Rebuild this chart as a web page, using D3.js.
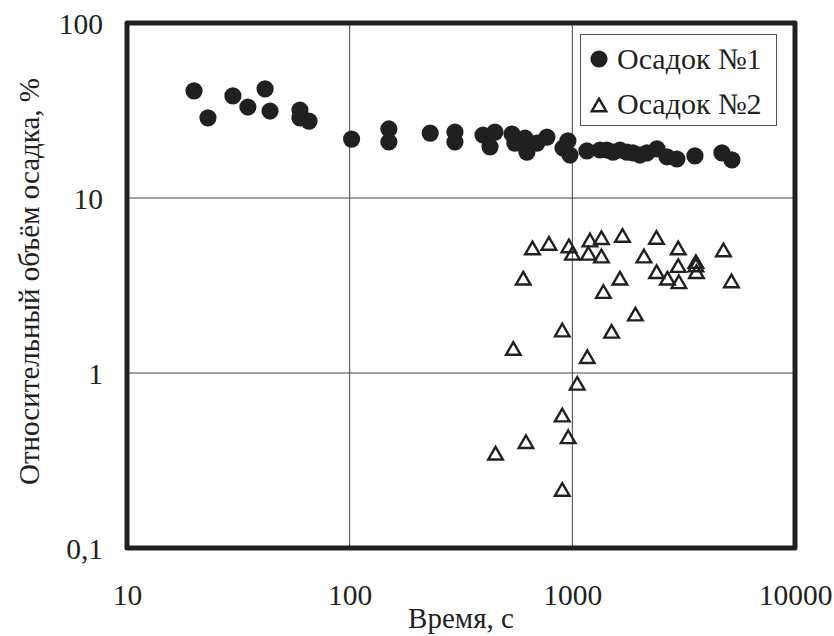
<!DOCTYPE html>
<html><head><meta charset="utf-8">
<script src="https://cdn.jsdelivr.net/npm/d3@7/dist/d3.min.js"></script>
</head><body style="margin:0">
<svg id="chart" width="834" height="636" style="font-family:'Liberation Serif'"></svg>
<script>
// Data: Осадок №1 (circles)
const sed1Time = [20.0, 23.1, 29.9, 34.9, 41.7, 43.9, 59.8, 59.8, 65.7, 102, 150, 150, 230, 297, 297, 397, 427, 449, 536, 552, 613, 625, 693, 769, 908, 955, 976, 1163, 1331, 1430, 1522, 1636, 1759, 1872, 2012, 2163, 2399, 2660, 2949, 3553, 4697, 5208];
const sed1Vol  = [40.9, 28.7, 38.3, 33.1, 42.0, 31.4, 31.8, 28.7, 27.5, 21.7, 24.8, 20.9, 23.5, 23.8, 20.9, 22.9, 19.6, 23.8, 23.2, 20.6, 22.0, 18.3, 20.6, 22.3, 19.3, 21.2, 17.6, 18.6, 18.8, 18.8, 18.3, 18.8, 18.3, 18.1, 17.6, 18.1, 19.1, 17.2, 16.7, 17.4, 18.1, 16.5];
// Data: Осадок №2 (triangles)
const sed2Time = [662, 785, 965, 1001, 1200, 1351, 1181, 1351, 1679, 2386, 2097, 2988, 4771, 602, 1636, 2391, 2674, 3010, 2988, 3589, 3589, 3608, 5181, 1379, 1920, 901, 1501, 543, 1167, 1052, 901, 958, 619, 452, 901];
const sed2Vol  = [5.18, 5.50, 5.32, 4.83, 5.75, 5.93, 4.83, 4.66, 6.11, 5.95, 4.66, 5.18, 5.05, 3.48, 3.48, 3.79, 3.48, 3.32, 4.11, 4.33, 4.14, 3.79, 3.36, 2.92, 2.17, 1.76, 1.73, 1.38, 1.24, 0.873, 0.575, 0.432, 0.405, 0.348, 0.216];

const xTicks = [10, 100, 1000, 10000];
const xTickLabels = ["10", "100", "1000", "10000"];
const yTicks = [0.1, 1, 10, 100];
const yTickLabels = ["0,1", "1", "10", "100"];
const seriesNames = ["Осадок №1", "Осадок №2"];
const xTitle = "Время, с";
const yTitle = "Относительный объём осадка, %";

const ink = "#231f20";
const L = 127, R = 795, T = 23, B = 548;
const svg = d3.select("#chart");

function serif(sel, size) {
  return sel.style("font-family", '"Liberation Serif"').style("font-size", size + "px");
}

const x = d3.scaleLog().domain([10, 10000]).range([L, R]);
const y = d3.scaleLog().domain([0.1, 100]).range([B, T]);

// grid
const grid = svg.append("g");
grid.selectAll("line.gx").data(xTicks.slice(1, -1)).enter().append("line")
  .attr("x1", d => x(d)).attr("x2", d => x(d)).attr("y1", T).attr("y2", B)
  .attr("stroke", "#444").attr("stroke-width", 1);
grid.selectAll("line.gy").data(yTicks.slice(1, -1)).enter().append("line")
  .attr("y1", d => y(d)).attr("y2", d => y(d)).attr("x1", L).attr("x2", R)
  .attr("stroke", "#444").attr("stroke-width", 1);

// axes (labels only)
const xAxis = d3.axisBottom(x).tickValues(xTicks).tickSize(0).tickPadding(0)
  .tickFormat((d, i) => xTickLabels[i]);
const gx = svg.append("g").attr("transform", `translate(0,${B})`).call(xAxis);
gx.attr("font-family", null).attr("font-size", null);
gx.select(".domain").remove();
serif(gx.selectAll("text").attr("dy", null).attr("y", 57).attr("fill", ink), 29.5);

const yAxis = d3.axisLeft(y).tickValues(yTicks).tickSize(0).tickPadding(0)
  .tickFormat((d, i) => yTickLabels[i]);
const gy = svg.append("g").attr("transform", `translate(${L},0)`).call(yAxis);
gy.attr("font-family", null).attr("font-size", null);
gy.select(".domain").remove();
serif(gy.selectAll("text").attr("x", -24).attr("dy", "0.34em").attr("fill", ink), 29.5);

// titles
serif(svg.append("text").attr("x", (L + R) / 2).attr("y", 628).attr("text-anchor", "middle")
  .attr("fill", ink), 29).text(xTitle);
serif(svg.append("text").attr("transform", `translate(39,${(T + B) / 2 - 4}) rotate(-90)`)
  .attr("text-anchor", "middle").attr("fill", ink), 29).text(yTitle);

// points
const tri = "M0,-6.3L7.3,6.3L-7.3,6.3Z";
svg.append("g").selectAll("circle").data(sed1Time.map((t, i) => [t, sed1Vol[i]])).enter()
  .append("circle").attr("cx", d => x(d[0])).attr("cy", d => y(d[1])).attr("r", 8.6)
  .attr("fill", ink);
svg.append("g").selectAll("path").data(sed2Time.map((t, i) => [t, sed2Vol[i]])).enter()
  .append("path").attr("d", tri).attr("transform", d => `translate(${x(d[0])},${y(d[1])})`)
  .attr("fill", "none").attr("stroke", ink).attr("stroke-width", 2.4);

// frame
svg.append("rect").attr("x", L).attr("y", T).attr("width", R - L).attr("height", B - T)
  .attr("fill", "none").attr("stroke", ink).attr("stroke-width", 5).attr("stroke-linejoin", "round");

// legend
const lg = svg.append("g");
lg.append("rect").attr("x", 580.5).attr("y", 34.5).attr("width", 196).attr("height", 91)
  .attr("fill", "#fff").attr("stroke", "#555").attr("stroke-width", 1);
lg.append("circle").attr("cx", 599).attr("cy", 59).attr("r", 8.6).attr("fill", ink);
lg.append("path").attr("d", tri).attr("transform", "translate(599,105)")
  .attr("fill", "none").attr("stroke", ink).attr("stroke-width", 2.4);
serif(lg.append("text").attr("x", 617).attr("y", 69).attr("fill", ink), 30).text(seriesNames[0]);
serif(lg.append("text").attr("x", 617).attr("y", 114).attr("fill", ink), 30).text(seriesNames[1]);
</script>
</body></html>
